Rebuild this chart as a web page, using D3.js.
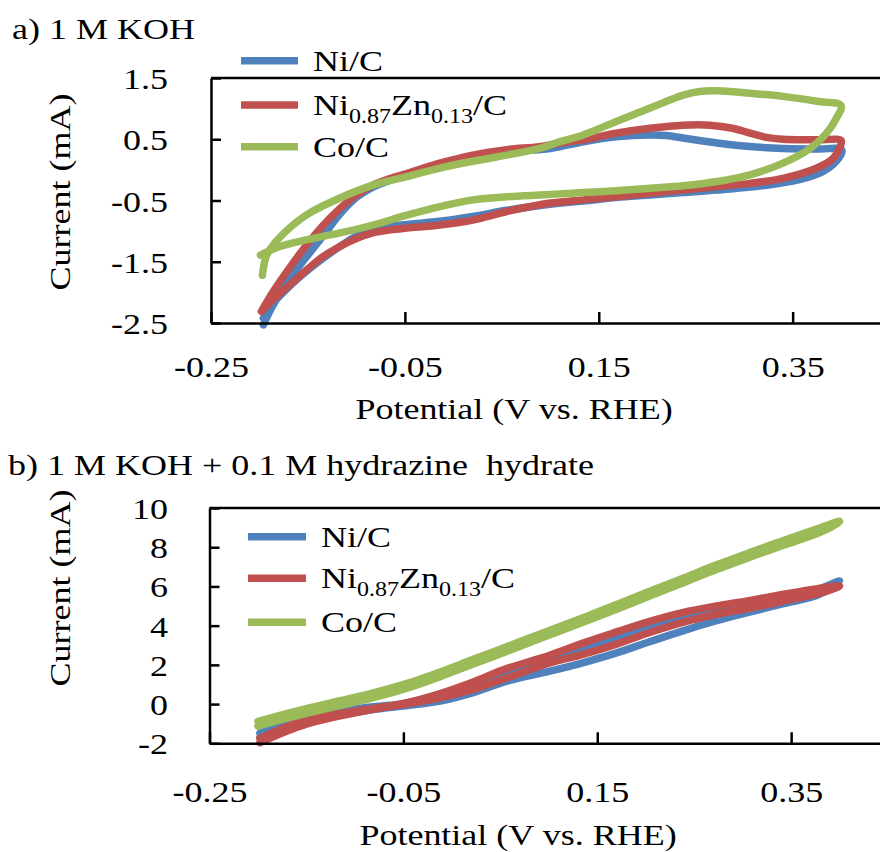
<!DOCTYPE html>
<html>
<head>
<meta charset="utf-8">
<script src="https://cdn.jsdelivr.net/npm/d3@7"></script>
<style>
  body { margin: 0; background: #fff; }
  text { font-family: "Liberation Serif", "Times New Roman", serif; fill: #000; }
</style>
</head>
<body>
<svg id="chart" width="880" height="852"></svg>
<script>
// ---- data -------------------------------------------------------------
const seriesNames = ["Ni/C", "Ni0.87Zn0.13/C", "Co/C"];
const seriesColors = ["#4F81BD", "#C0504D", "#9BBB59"];
const potentialTicks = [-0.25, -0.05, 0.15, 0.35];
const currentTicksKOH = [-2.5, -1.5, -0.5, 0.5, 1.5];
const currentTicksHyd = [-2, 0, 2, 4, 6, 8, 10];

// cyclic voltammograms, [potential (V vs. RHE), current (mA)]
// a) 1 M KOH
const niKOH = [
  [-0.196, -2.53], [-0.186, -2.21], [-0.169, -1.78], [-0.151, -1.41], [-0.134, -1.07],
  [-0.117, -0.72], [-0.100, -0.45], [-0.083, -0.28], [-0.065, -0.17], [-0.048, -0.09],
  [-0.014, 0.04], [0.020, 0.19], [0.055, 0.29], [0.100, 0.35], [0.134, 0.46],
  [0.168, 0.54], [0.203, 0.57], [0.220, 0.56], [0.237, 0.52], [0.272, 0.44],
  [0.306, 0.38], [0.340, 0.35], [0.375, 0.34], [0.400, 0.34],
  [0.401, 0.30], [0.395, 0.14], [0.381, -0.03], [0.357, -0.16], [0.323, -0.25],
  [0.272, -0.33], [0.237, -0.37], [0.203, -0.41], [0.168, -0.45], [0.134, -0.51],
  [0.100, -0.56], [0.055, -0.66], [0.020, -0.76], [-0.014, -0.84], [-0.048, -0.89],
  [-0.083, -0.97], [-0.100, -1.08], [-0.117, -1.25], [-0.134, -1.44], [-0.151, -1.65],
  [-0.169, -1.90], [-0.186, -2.18], [-0.196, -2.42]
];
const niZnKOH = [
  [-0.198, -2.31], [-0.186, -1.99], [-0.169, -1.60], [-0.151, -1.22], [-0.134, -0.90],
  [-0.117, -0.63], [-0.100, -0.41], [-0.083, -0.25], [-0.065, -0.14], [-0.048, -0.06],
  [-0.031, 0.03], [-0.014, 0.11], [0.020, 0.24], [0.055, 0.33], [0.089, 0.38],
  [0.110, 0.44], [0.134, 0.49], [0.168, 0.60], [0.203, 0.68], [0.237, 0.73],
  [0.265, 0.73], [0.288, 0.68], [0.306, 0.60], [0.323, 0.53], [0.340, 0.50],
  [0.375, 0.49], [0.400, 0.48],
  [0.399, 0.38], [0.392, 0.19], [0.375, 0.03], [0.340, -0.14], [0.306, -0.22],
  [0.272, -0.27], [0.237, -0.33], [0.203, -0.38], [0.168, -0.44], [0.134, -0.49],
  [0.100, -0.54], [0.089, -0.57], [0.055, -0.68], [0.020, -0.82], [-0.014, -0.90],
  [-0.048, -0.95], [-0.065, -0.98], [-0.083, -1.03], [-0.100, -1.12], [-0.117, -1.25],
  [-0.134, -1.41], [-0.151, -1.63], [-0.169, -1.88], [-0.186, -2.12], [-0.198, -2.31]
];
const coKOH = [
  [-0.197, -1.72], [-0.193, -1.41], [-0.186, -1.23], [-0.169, -0.95], [-0.151, -0.73],
  [-0.117, -0.46], [-0.083, -0.25], [-0.048, -0.11], [-0.014, 0.03], [0.020, 0.14],
  [0.055, 0.24], [0.089, 0.35], [0.110, 0.46], [0.134, 0.57], [0.168, 0.79],
  [0.203, 1.01], [0.237, 1.22], [0.254, 1.28], [0.272, 1.29], [0.306, 1.25],
  [0.340, 1.20], [0.375, 1.12], [0.400, 1.05],
  [0.395, 0.84], [0.385, 0.60], [0.368, 0.35], [0.340, 0.11], [0.306, -0.08],
  [0.272, -0.19], [0.237, -0.26], [0.203, -0.30], [0.168, -0.34], [0.134, -0.37],
  [0.100, -0.40], [0.089, -0.41], [0.055, -0.44], [0.020, -0.49], [-0.014, -0.60],
  [-0.048, -0.74], [-0.083, -0.90], [-0.117, -1.03], [-0.151, -1.14], [-0.179, -1.25],
  [-0.199, -1.39]
];

// b) 1 M KOH + 0.1 M hydrazine hydrate
const niHyd = [
  [-0.198, -1.49], [-0.150, -0.64], [-0.081, -0.14], [-0.050, 0.02], [-0.012, 0.50],
  [0.022, 1.02], [0.057, 1.62], [0.101, 2.25], [0.136, 2.82], [0.170, 3.36],
  [0.204, 3.88], [0.239, 4.35], [0.273, 4.76], [0.308, 5.15], [0.342, 5.50],
  [0.377, 5.85], [0.400, 6.28],
  [0.392, 5.95], [0.377, 5.55], [0.342, 5.12], [0.308, 4.70], [0.273, 4.25],
  [0.239, 3.75], [0.204, 3.18], [0.170, 2.61], [0.136, 2.12], [0.101, 1.68],
  [0.057, 1.17], [0.022, 0.58], [-0.012, 0.15], [-0.050, -0.10], [-0.081, -0.28],
  [-0.150, -0.95], [-0.198, -1.70]
];
const niZnHyd = [
  [-0.198, -1.75], [-0.150, -0.81], [-0.081, -0.22], [-0.050, 0.03], [-0.012, 0.54],
  [0.022, 1.13], [0.057, 1.82], [0.101, 2.49], [0.136, 3.12], [0.170, 3.68],
  [0.204, 4.22], [0.239, 4.68], [0.273, 5.00], [0.308, 5.29], [0.342, 5.60],
  [0.377, 5.89], [0.400, 6.02],
  [0.392, 5.85], [0.377, 5.62], [0.342, 5.25], [0.308, 4.90], [0.273, 4.58],
  [0.239, 4.18], [0.204, 3.65], [0.170, 3.06], [0.136, 2.55], [0.101, 2.10],
  [0.057, 1.34], [0.022, 0.75], [-0.012, 0.32], [-0.050, -0.02], [-0.081, -0.27],
  [-0.150, -1.03], [-0.198, -1.97]
];
const coHyd = [
  [-0.200, -0.88], [-0.184, -0.66], [-0.150, -0.23], [-0.115, 0.17], [-0.081, 0.57],
  [-0.047, 1.04], [-0.012, 1.64], [0.022, 2.28], [0.057, 2.93], [0.091, 3.58],
  [0.136, 4.42], [0.170, 5.08], [0.204, 5.75], [0.239, 6.43], [0.273, 7.10],
  [0.308, 7.74], [0.342, 8.34], [0.377, 8.94], [0.400, 9.32],
  [0.392, 9.05], [0.377, 8.70], [0.342, 8.10], [0.308, 7.50], [0.273, 6.86],
  [0.239, 6.19], [0.204, 5.51], [0.170, 4.84], [0.136, 4.18], [0.091, 3.34],
  [0.057, 2.69], [0.022, 2.04], [-0.012, 1.40], [-0.047, 0.80], [-0.081, 0.33],
  [-0.115, -0.07], [-0.150, -0.47], [-0.184, -0.90], [-0.200, -1.12]
];

// ---- layout -----------------------------------------------------------
const FS = 30;      // font size
const SX = 1.2;     // horizontal glyph stretch
const svg = d3.select("#chart");
svg.append("rect").attr("width", 880).attr("height", 852).attr("fill", "#fff");

const hyphenFormat = f => d => f(d).replace("\u2212", "-");

const panels = [
  {
    title: "a) 1 M KOH", titleX: 12, titleY: 39,
    series: [niKOH, niZnKOH, coKOH],
    yDomain: [-2.5, 1.5], yTicks: currentTicksKOH, yFormat: hyphenFormat(d3.format(".1f")),
    left: 211, top: 78, bottom: 323,
    xLabelY: 54, yLabelPad: 43,
    xTitle: [514, 419], yTitle: [70, 192],
    legend: { x1: 241, x2: 298, tx: 313, rows: [60.7, 105, 146.7] }
  },
  {
    title: "b) 1 M KOH + 0.1 M hydrazine\u00a0 hydrate", titleX: 8, titleY: 475,
    series: [niHyd, niZnHyd, coHyd],
    yDomain: [-2, 10], yTicks: currentTicksHyd, yFormat: hyphenFormat(d3.format("d")),
    left: 209.5, top: 508, bottom: 743.3,
    xLabelY: 58.4, yLabelPad: 41.5,
    xTitle: [518, 845], yTitle: [70, 588],
    legend: { x1: 248, x2: 306, tx: 321, rows: [536.7, 578.3, 622.3] }
  }
];

function stretch(sel) {
  sel.each(function () {
    const t = d3.select(this);
    const x = +t.attr("x") || 0, y = +t.attr("y") || 0;
    t.attr("x", 0).attr("y", 0)
     .attr("transform", `translate(${x},${y}) scale(${SX},1)`);
  });
}

function labelParts(name) {
  // subscripts for the alloy composition
  if (name === "Ni0.87Zn0.13/C")
    return [["Ni", 0], ["0.87", 1], ["Zn", 0], ["0.13", 1], ["/C", 0]];
  return [[name, 0]];
}

panels.forEach(p => {
  const x = d3.scaleLinear().domain([-0.25, 0.45]).range([p.left, p.left + 0.7 * 969.4]);
  const y = d3.scaleLinear().domain(p.yDomain).range([p.bottom, p.top]);
  const g = svg.append("g");

  // title
  g.append("text").attr("font-size", FS)
    .attr("transform", `translate(${p.titleX},${p.titleY}) scale(${SX},1)`)
    .style("white-space", "pre")
    .text(p.title);

  // top frame line
  g.append("line")
    .attr("x1", x(-0.25)).attr("x2", x(0.45))
    .attr("y1", y(p.yDomain[1])).attr("y2", y(p.yDomain[1]))
    .attr("stroke", "#000").attr("stroke-width", 2.5);

  // voltammogram loops
  const line = d3.line()
    .x(d => x(d[0])).y(d => y(d[1]))
    .curve(d3.curveCatmullRom.alpha(0.5));
  p.series.forEach((s, i) => {
    g.append("path").datum(s)
      .attr("d", line)
      .attr("fill", "none")
      .attr("stroke", seriesColors[i])
      .attr("stroke-width", 7.5)
      .attr("stroke-linejoin", "round")
      .attr("stroke-linecap", "round");
  });

  // axes, ticks pointing into the plot
  const xAxis = d3.axisBottom(x).tickValues(potentialTicks)
    .tickSizeInner(-11).tickSizeOuter(0)
    .tickFormat(hyphenFormat(d3.format(".2f")));
  const gx = g.append("g").attr("transform", `translate(0,${p.bottom})`).call(xAxis);
  const yAxis = d3.axisLeft(y).tickValues(p.yTicks)
    .tickSizeInner(-10).tickSizeOuter(0).tickPadding(p.yLabelPad)
    .tickFormat(p.yFormat);
  const gy = g.append("g").attr("transform", `translate(${p.left},0)`).call(yAxis);

  [gx, gy].forEach(ax => {
    ax.attr("font-family", null).attr("font-size", null);
    ax.select(".domain").attr("stroke", "#000").attr("stroke-width", 2.5);
    ax.selectAll(".tick line").attr("stroke", "#000").attr("stroke-width", 2.5);
    ax.selectAll("text").attr("font-size", FS).attr("fill", "#000");
  });
  gx.selectAll("text").attr("y", p.xLabelY).attr("dy", 0);
  gy.selectAll("text").attr("dy", "0.35em");
  stretch(gx.selectAll("text"));
  stretch(gy.selectAll("text"));

  // axis titles
  g.append("text").attr("font-size", FS).attr("text-anchor", "middle")
    .attr("transform", `translate(${p.xTitle[0]},${p.xTitle[1]}) scale(${SX},1)`)
    .text("Potential (V vs. RHE)");
  g.append("text").attr("font-size", FS).attr("text-anchor", "middle")
    .attr("transform", `translate(${p.yTitle[0]},${p.yTitle[1]}) rotate(-90) scale(${SX},1)`)
    .text("Current (mA)");

  // legend
  seriesNames.forEach((name, i) => {
    const ly = p.legend.rows[i];
    g.append("line")
      .attr("x1", p.legend.x1).attr("x2", p.legend.x2)
      .attr("y1", ly).attr("y2", ly)
      .attr("stroke", seriesColors[i]).attr("stroke-width", 7.5);
    const t = g.append("text").attr("font-size", FS)
      .attr("transform", `translate(${p.legend.tx},${ly + 10}) scale(${SX},1)`);
    let shifted = false;
    labelParts(name).forEach(([txt, sub]) => {
      const ts = t.append("tspan").text(txt);
      if (sub) {
        ts.attr("font-size", 20);
        if (!shifted) { ts.attr("dy", 8); shifted = true; }
      } else if (shifted) {
        ts.attr("dy", -8); shifted = false;
      }
    });
  });
});
</script>
</body>
</html>
